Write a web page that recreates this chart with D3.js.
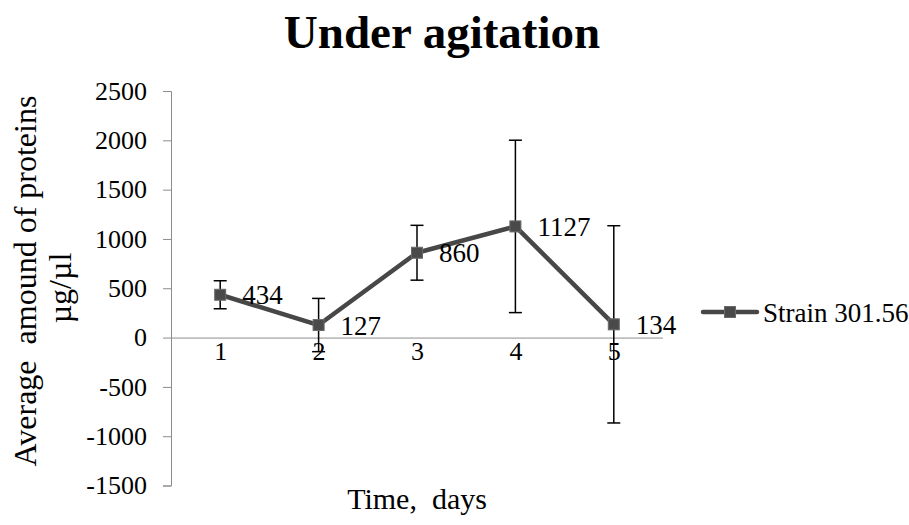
<!DOCTYPE html>
<html>
<head>
<meta charset="utf-8">
<script src="https://cdn.jsdelivr.net/npm/d3@7/dist/d3.min.js"></script>
<style>
  html, body { margin: 0; padding: 0; background: #fff; }
  svg { display: block; font-family: "Liberation Serif", "Times New Roman", serif; }
  svg text { font-family: "Liberation Serif", "Times New Roman", serif; }
</style>
</head>
<body>
<svg id="chart" width="909" height="525"></svg>
<script>
// Protein amount over time for one strain under agitation
const days = [1, 2, 3, 4, 5];
const means = [434, 127, 860, 1127, 134];
const errors = [142, 270, 278, 874, 1000];
const yTicks = [-1500, -1000, -500, 0, 500, 1000, 1500, 2000, 2500];
const seriesName = "Strain 301.56";

const svg = d3.select("#chart");
const lineColor = "#474747";
const markerFill = "#4a4a4a";
const axisColor = "#8c8c8c";

const x = d3.scalePoint().domain(days).range([171, 663]).padding(0.5);
const y = d3.scaleLinear().domain([-1500, 2500]).range([485.5, 91]);

// Title
svg.append("text")
  .attr("x", 442).attr("y", 48)
  .attr("text-anchor", "middle")
  .attr("font-size", 47).attr("font-weight", "bold")
  .text("Under agitation");

// Value axis (plain hyphen for negatives)
const yAxis = svg.append("g")
  .attr("transform", "translate(171,0)")
  .call(d3.axisLeft(y).tickValues(yTicks).tickSize(8).tickSizeOuter(8).tickPadding(16)
    .tickFormat(d => String(d)));
yAxis.attr("font-family", null);
yAxis.select(".domain").attr("stroke", axisColor);
yAxis.selectAll(".tick line").attr("stroke", axisColor);
yAxis.selectAll(".tick text").attr("font-size", 26).attr("fill", "#000");

// Category axis along zero
const xAxis = svg.append("g")
  .attr("transform", `translate(0,${y(0)})`)
  .call(d3.axisBottom(x).tickSize(0).tickSizeOuter(0).tickPadding(22));
xAxis.attr("font-family", null);
xAxis.select(".domain").attr("stroke", axisColor).attr("d", "M171,0.5H663");
xAxis.selectAll(".tick text").attr("font-size", 26).attr("fill", "#000").attr("dy", "0");

// Axis titles
svg.append("text")
  .attr("transform", "translate(36,281) rotate(-90)")
  .attr("text-anchor", "middle").attr("font-size", 32)
  .attr("xml:space", "preserve")
  .text("Average  amound of proteins");
svg.append("text")
  .attr("transform", "translate(71,288) rotate(-90)")
  .attr("text-anchor", "middle").attr("font-size", 32)
  .text("µg/µl");
svg.append("text")
  .attr("x", 417).attr("y", 509)
  .attr("text-anchor", "middle").attr("font-size", 30)
  .attr("xml:space", "preserve")
  .text("Time,  days");

const data = days.map((d, i) => ({ day: d, mean: means[i], err: errors[i] }));

// Error bars
const eb = svg.append("g").attr("stroke", "#000").attr("stroke-width", 1.5);
data.forEach(d => {
  const cx = x(d.day), top = y(d.mean + d.err), bot = y(d.mean - d.err);
  eb.append("line").attr("x1", cx).attr("x2", cx).attr("y1", top).attr("y2", bot);
  eb.append("line").attr("x1", cx - 6.5).attr("x2", cx + 6.5).attr("y1", top).attr("y2", top);
  eb.append("line").attr("x1", cx - 6.5).attr("x2", cx + 6.5).attr("y1", bot).attr("y2", bot);
});

// Series line
svg.append("path")
  .datum(data)
  .attr("fill", "none").attr("stroke", lineColor).attr("stroke-width", 4.5)
  .attr("stroke-linejoin", "round")
  .attr("d", d3.line().x(d => x(d.day)).y(d => y(d.mean)));

// Markers
svg.append("g").selectAll("rect").data(data).join("rect")
  .attr("x", d => x(d.day) - 5.5).attr("y", d => y(d.mean) - 5.5)
  .attr("width", 11).attr("height", 11)
  .attr("fill", markerFill).attr("stroke", "#6a6a6a").attr("stroke-width", 1);

// Data labels
svg.append("g").selectAll("text").data(data).join("text")
  .attr("x", d => x(d.day) + 22).attr("y", d => y(d.mean) + 9.5)
  .attr("font-size", 27)
  .text(d => d.mean);

// Legend
const lg = svg.append("g").attr("transform", "translate(703,312)");
lg.append("line").attr("x1", 0).attr("x2", 54).attr("y1", 0).attr("y2", 0)
  .attr("stroke", lineColor).attr("stroke-width", 4.5).attr("stroke-linecap", "round");
lg.append("rect").attr("x", 21.5).attr("y", -5.5).attr("width", 11).attr("height", 11)
  .attr("fill", markerFill).attr("stroke", "#6a6a6a").attr("stroke-width", 1);
lg.append("text").attr("x", 60).attr("y", 9.5).attr("font-size", 27).text(seriesName);
</script>
</body>
</html>
